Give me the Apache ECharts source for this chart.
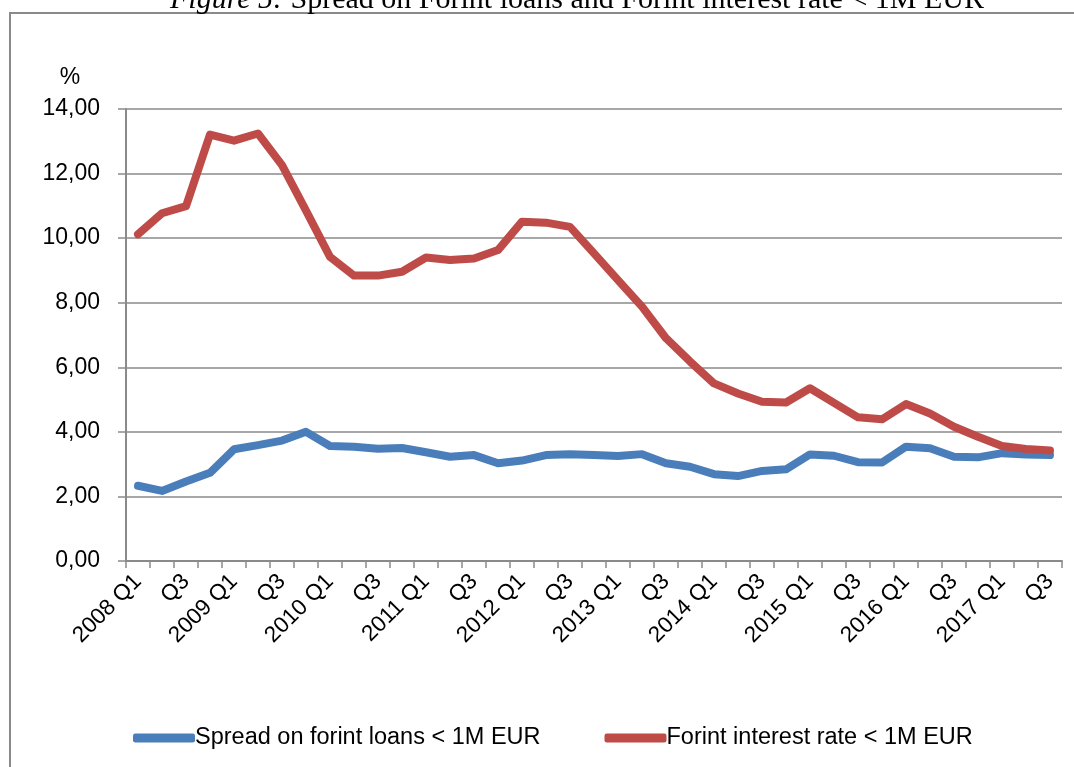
<!DOCTYPE html>
<html>
<head>
<meta charset="utf-8">
<script src="https://cdn.jsdelivr.net/npm/echarts@6/dist/echarts.min.js"></script>
<style>html,body{margin:0;padding:0;background:#fff}#c{width:1074px;height:767px}</style>
</head>
<body>
<div id="c"></div>
<script>
const categories = ["2008 Q1","Q2","Q3","Q4","2009 Q1","Q2","Q3","Q4","2010 Q1","Q2","Q3","Q4","2011 Q1","Q2","Q3","Q4","2012 Q1","Q2","Q3","Q4","2013 Q1","Q2","Q3","Q4","2014 Q1","Q2","Q3","Q4","2015 Q1","Q2","Q3","Q4","2016 Q1","Q2","Q3","Q4","2017 Q1","Q2","Q3"];
const spread = [2.33,2.17,2.46,2.73,3.46,3.59,3.73,4.00,3.56,3.54,3.48,3.50,3.37,3.23,3.28,3.03,3.11,3.28,3.31,3.28,3.25,3.31,3.03,2.92,2.69,2.63,2.79,2.84,3.30,3.26,3.06,3.05,3.54,3.49,3.23,3.21,3.34,3.30,3.28];
const rate = [10.12,10.77,10.99,13.21,13.02,13.24,12.26,10.85,9.42,8.84,8.84,8.96,9.40,9.32,9.37,9.63,10.51,10.48,10.35,9.53,8.70,7.88,6.90,6.18,5.50,5.19,4.93,4.91,5.35,4.90,4.45,4.39,4.86,4.57,4.16,3.85,3.56,3.47,3.42];
const seriesNames = ["Spread on forint loans < 1M EUR","Forint interest rate < 1M EUR"];
const titleText = "Spread on Forint loans and Forint interest rate < 1M EUR";

const chart = echarts.init(document.getElementById('c'), null, {renderer:'canvas'});
const font = '"Liberation Sans", Arial, sans-serif';
const gridColor = '#8a8a8a';
const serif = '"Liberation Serif","Times New Roman",serif';
chart.setOption({
  animation:false,
  backgroundColor:'#fff',
  graphic:[
    {type:'rect', shape:{x:10, y:13, width:1100, height:800}, style:{fill:'none', stroke:'#8a8a8a', lineWidth:2}, z:0},
    {type:'text', x:577, y:15, style:{text:'{i|Figure 5:} '+titleText, align:'center', verticalAlign:'bottom', fontFamily:serif, fontSize:30, fill:'#000', rich:{i:{fontStyle:'italic', fontFamily:serif, fontSize:30}}}},
    {type:'text', x:70, y:78, style:{text:'%', align:'center', verticalAlign:'middle', fontFamily:font, fontSize:23, fill:'#000'}}
  ],
  legend:{
    data:seriesNames.map(n=>({name:n, icon:'roundRect'})),
    left:128, top:721, itemWidth:62, itemHeight:9, itemGap:64,
    textStyle:{fontFamily:font, fontSize:23.5, color:'#000', padding:[0,0,0,-5]}
  },
  grid:{left:126, right:12, top:109, bottom:206, containLabel:false},
  xAxis:{
    type:'category', data:categories, boundaryGap:true,
    axisLine:{lineStyle:{color:gridColor, width:2}},
    axisTick:{show:true, interval:0, length:7, lineStyle:{color:gridColor, width:1.5}},
    axisLabel:{interval:1, rotate:45, fontFamily:font, fontSize:22.5, color:'#000', margin:17}
  },
  yAxis:{
    type:'value', min:0, max:14, interval:2,
    axisLine:{show:true, lineStyle:{color:gridColor, width:2}},
    axisTick:{show:true, length:8, lineStyle:{color:gridColor, width:1.5}},
    splitLine:{lineStyle:{color:gridColor, width:1.5}},
    axisLabel:{fontFamily:font, fontSize:23, color:'#000', margin:26, formatter:v=>v.toFixed(2).replace('.',',')}
  },
  series:[
    {name:seriesNames[0], type:'line', data:spread, symbol:'none', lineStyle:{width:8, color:'#4a7ebb', cap:'round', join:'round'}, itemStyle:{color:'#4a7ebb'}},
    {name:seriesNames[1], type:'line', data:rate, symbol:'none', lineStyle:{width:8, color:'#be4b48', cap:'round', join:'round'}, itemStyle:{color:'#be4b48'}}
  ]
});
</script>
</body>
</html>
